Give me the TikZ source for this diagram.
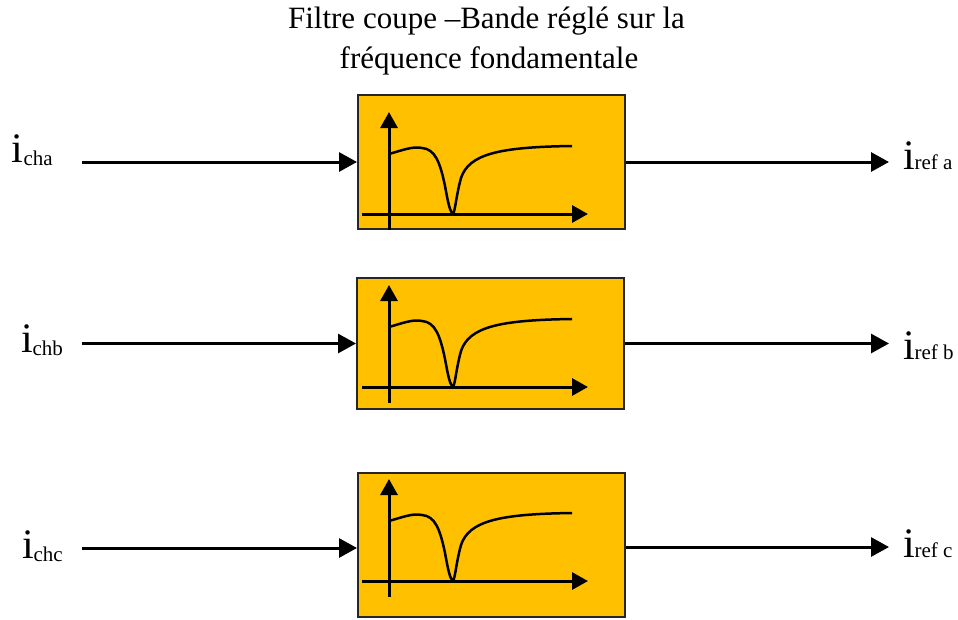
\documentclass[tikz,border=0pt]{standalone}
\usepackage{fontspec}
\setmainfont{Liberation Serif}
\usetikzlibrary{arrows.meta}
\definecolor{filterfill}{HTML}{FFC000}
\tikzset{
  filterbox/.style={draw=black!85, line width=2pt, fill=filterfill, minimum width=267pt, inner sep=0pt},
  flow/.style={line width=3pt, -{Triangle[length=18pt,width=19pt]}},
  axis/.style={line width=3pt, -{Triangle[length=16pt,width=17pt]}},
  curve/.style={line width=2.5pt},
  lbl/.style={anchor=base west, inner sep=0pt, outer sep=0pt},
  ttl/.style={anchor=base, inner sep=0pt, font=\fontsize{31}{31}\selectfont}
}
\newcommand{\curlab}[1]{{\fontsize{42}{42}\selectfont i}\raisebox{-3pt}{\fontsize{21}{21}\selectfont #1}}
\newcommand{\reflab}[1]{{\fontsize{42}{42}\selectfont i}{\fontsize{21}{21}\selectfont #1}}
\newcommand{\filtergraph}[1]{%
  \begin{scope}[shift={(389,#1)}]
    \draw[axis] (0,16) -- (0,-102);
    \draw[axis] (-27,0) -- (199,0);
    \draw[curve] (0,-60) .. controls (14,-64) and (24,-68) .. (33,-66)
      .. controls (46,-65) and (51,-52) .. (56,-28)
      .. controls (59,-12) and (61,-1) .. (64,-1)
      .. controls (66,-1) and (67,-18) .. (72,-36)
      .. controls (80,-60) and (110,-67) .. (183,-68);
  \end{scope}}
\begin{document}
\begin{tikzpicture}[x=1pt,y=-1pt]
\useasboundingbox (0,0) rectangle (958,619);
% title
\node[ttl] (t1) at (486.5,28) {Filtre coupe –Bande réglé sur la};
\node[ttl] (t2) at (489,68) {fréquence fondamentale};
% boxes
\node[filterbox, minimum height=134pt] (f1) at (491.5,162) {};
\node[filterbox, minimum height=131pt] (f2) at (490.5,343.5) {};
\node[filterbox, minimum height=144pt] (f3) at (491.5,545) {};
\filtergraph{214}
\filtergraph{387}
\filtergraph{581}
% input labels
\node[lbl] (ia) at (12,162) {\curlab{cha}};
\node[lbl] (ib) at (21,352) {\curlab{chb}};
\node[lbl] (ic) at (22,558) {\curlab{chc}};
% output labels
\node[lbl] (oa) at (903,169) {\reflab{ref a}};
\node[lbl] (ob) at (903,359) {\reflab{ref b}};
\node[lbl] (oc) at (903,557) {\reflab{ref c}};
% connector ends
\coordinate (sa) at (82,162);
\coordinate (sb) at (82,343.5);
\coordinate (sc) at (82,548);
\coordinate (ea) at (889,162);
\coordinate (eb) at (889,343.5);
\coordinate (ec) at (889,547);
\draw[flow] (sa) -- (sa -| f1.west);
\draw[flow] (sb) -- (sb -| f2.west);
\draw[flow] (sc) -- (sc -| f3.west);
\draw[flow] (ea -| f1.east) -- (ea);
\draw[flow] (eb -| f2.east) -- (eb);
\draw[flow] (ec -| f3.east) -- (ec);
\end{tikzpicture}
\end{document}
